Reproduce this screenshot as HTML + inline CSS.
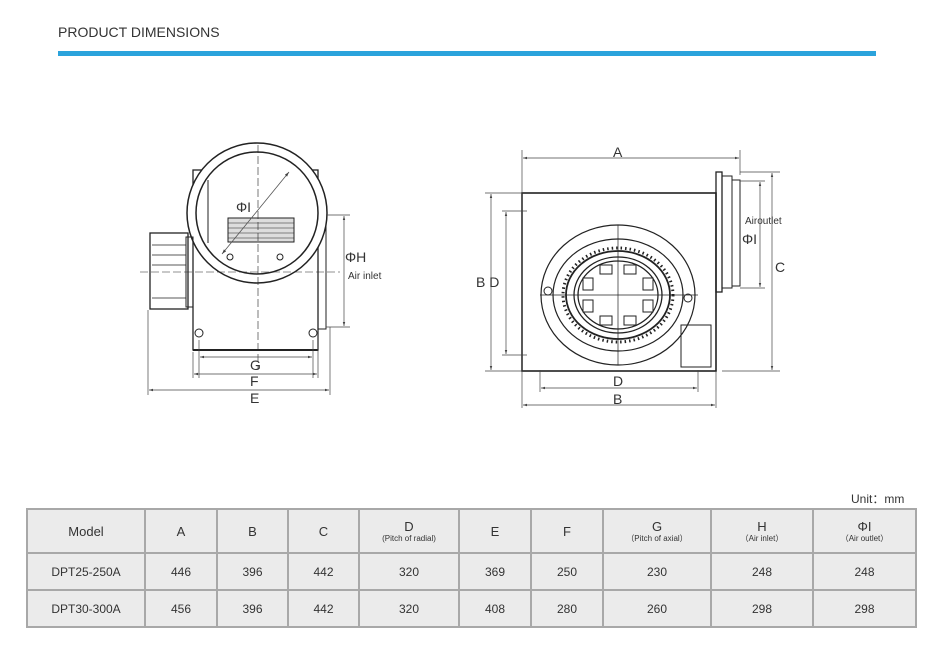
<!DOCTYPE html>
<html><head><meta charset="utf-8"><style>
body{margin:0;width:935px;height:670px;background:#fff;position:relative;font-family:"Liberation Sans",sans-serif;overflow:hidden}
.t{position:absolute;left:58px;top:24px;font-size:14px;color:#333}
.bar{position:absolute;left:58px;top:51px;width:818px;height:5px;background:#2ba3dc}
table{position:absolute;left:26px;top:508px;border-collapse:collapse;background:#ebebeb;color:#333}
td{border:2px solid #a8a8a8;text-align:center;font-size:12px;padding:0}
.h td{height:42px;font-size:13px}
.r td{height:35px}
small{display:block;font-size:8px;line-height:9px}
.unit{position:absolute;left:851px;top:490px;font-size:12px;color:#333}
</style></head><body>
<div class="t">PRODUCT DIMENSIONS</div>
<div class="bar"></div>
<svg width="935" height="470" style="position:absolute;left:0;top:0" font-family="Liberation Sans" fill="none" stroke="#222">
<defs><marker id="a" viewBox="0 0 10 10" refX="10" refY="5" markerWidth="6" markerHeight="6" orient="auto-start-reverse"><path d="M0,2L10,5L0,8z" fill="#444" stroke="none"/></marker></defs>
<!-- left view -->
<rect x="193" y="170" width="125" height="180" stroke-width="1.3"/>
<line x1="193" y1="350" x2="318" y2="350" stroke-width="2"/>
<rect x="318" y="215" width="8" height="114" stroke-width="1"/>
<circle cx="257" cy="213" r="70" fill="#fff" stroke-width="1.5"/>
<circle cx="257" cy="213" r="61" stroke-width="1.5"/>
<rect x="228" y="218" width="66" height="24" fill="#ddd" stroke-width="1"/>
<g stroke-width="0.6"><line x1="228" y1="223" x2="294" y2="223"/><line x1="228" y1="228" x2="294" y2="228"/><line x1="228" y1="233" x2="294" y2="233"/><line x1="228" y1="238" x2="294" y2="238"/></g>
<line x1="208" y1="180" x2="208" y2="243" stroke-width="1"/>
<rect x="150" y="233" width="38" height="76" stroke-width="1.3"/>
<g stroke-width="0.8"><line x1="152" y1="245" x2="186" y2="245"/><line x1="152" y1="255" x2="186" y2="255"/><line x1="152" y1="265" x2="186" y2="265"/><line x1="152" y1="298" x2="186" y2="298"/></g>
<rect x="186" y="237" width="7" height="70" stroke-width="1"/>
<circle cx="230" cy="257" r="3"/><circle cx="280" cy="257" r="3"/>
<circle cx="199" cy="333" r="4"/><circle cx="313" cy="333" r="4"/>
<line x1="258" y1="145" x2="258" y2="370" stroke-width="0.6" stroke-dasharray="8 3"/>
<line x1="140" y1="272" x2="340" y2="272" stroke-width="0.6" stroke-dasharray="8 3"/>
<line x1="222" y1="254" x2="289" y2="172" stroke="#555" stroke-width="0.8" marker-start="url(#a)" marker-end="url(#a)"/>
<g stroke-width="0.7" stroke="#444">
<line x1="326" y1="215" x2="350" y2="215"/><line x1="326" y1="327" x2="350" y2="327"/>
<line x1="344" y1="216" x2="344" y2="326" marker-start="url(#a)" marker-end="url(#a)"/>
<line x1="199" y1="340" x2="199" y2="378"/><line x1="313" y1="340" x2="313" y2="378"/>
<line x1="200" y1="357" x2="312" y2="357" marker-start="url(#a)" marker-end="url(#a)"/>
<line x1="193" y1="352" x2="193" y2="378"/><line x1="318" y1="330" x2="318" y2="378"/>
<line x1="194" y1="374" x2="317" y2="374" marker-start="url(#a)" marker-end="url(#a)"/>
<line x1="148" y1="310" x2="148" y2="395"/><line x1="330" y1="327" x2="330" y2="395"/>
<line x1="149" y1="390" x2="329" y2="390" marker-start="url(#a)" marker-end="url(#a)"/>
</g>
<g fill="#333" stroke="none" font-size="14"><text x="236" y="212">ΦI</text><text x="345" y="262">ΦH</text><text x="250" y="370">G</text><text x="250" y="386">F</text><text x="250" y="403">E</text></g>
<text x="348" y="279" font-size="10" fill="#333" stroke="none">Air inlet</text>
<!-- right view -->
<rect x="522" y="193" width="194" height="178" stroke-width="1.6"/>
<rect x="716" y="172" width="6" height="120" stroke-width="1.3"/>
<rect x="722" y="176" width="10" height="112" stroke-width="1"/>
<rect x="732" y="180" width="8" height="106" stroke-width="1"/>
<ellipse cx="618" cy="295" rx="77" ry="70" stroke-width="1.2"/>
<ellipse cx="618" cy="295" rx="65" ry="56" stroke-width="1.2"/>
<ellipse cx="618" cy="295" rx="52" ry="44" stroke-width="1.8"/>
<ellipse cx="618" cy="295" rx="55" ry="47" stroke-width="3" stroke-dasharray="1.5 3"/>
<ellipse cx="618" cy="295" rx="44" ry="38" stroke-width="1.3"/>
<ellipse cx="618" cy="295" rx="40" ry="34" stroke-width="1.3"/>
<g stroke-width="1"><rect x="600" y="265" width="12" height="9"/><rect x="624" y="265" width="12" height="9"/><rect x="600" y="316" width="12" height="9"/><rect x="624" y="316" width="12" height="9"/><rect x="583" y="278" width="10" height="12"/><rect x="583" y="300" width="10" height="12"/><rect x="643" y="278" width="10" height="12"/><rect x="643" y="300" width="10" height="12"/></g>
<line x1="540" y1="295" x2="698" y2="295" stroke-width="0.7"/>
<line x1="618" y1="225" x2="618" y2="365" stroke-width="0.7"/>
<circle cx="548" cy="291" r="4"/><circle cx="688" cy="298" r="4"/>
<path d="M681 325h30v42h-30z" stroke-width="1"/>
<g stroke-width="0.7" stroke="#444">
<line x1="522" y1="150" x2="522" y2="408"/><line x1="740" y1="150" x2="740" y2="175"/>
<line x1="523" y1="158" x2="739" y2="158" marker-start="url(#a)" marker-end="url(#a)"/>
<line x1="485" y1="193" x2="522" y2="193"/><line x1="485" y1="371" x2="522" y2="371"/>
<line x1="491" y1="194" x2="491" y2="370" marker-start="url(#a)" marker-end="url(#a)"/>
<line x1="502" y1="211" x2="527" y2="211"/><line x1="502" y1="355" x2="527" y2="355"/>
<line x1="506" y1="212" x2="506" y2="354" marker-start="url(#a)" marker-end="url(#a)"/>
<line x1="740" y1="172" x2="780" y2="172"/><line x1="722" y1="371" x2="780" y2="371"/>
<line x1="772" y1="173" x2="772" y2="370" marker-start="url(#a)" marker-end="url(#a)"/>
<line x1="740" y1="181" x2="765" y2="181"/><line x1="740" y1="288" x2="765" y2="288"/>
<line x1="760" y1="182" x2="760" y2="287" marker-start="url(#a)" marker-end="url(#a)"/>
<line x1="540" y1="370" x2="540" y2="392"/><line x1="698" y1="370" x2="698" y2="392"/>
<line x1="541" y1="388" x2="697" y2="388" marker-start="url(#a)" marker-end="url(#a)"/>
<line x1="716" y1="371" x2="716" y2="408"/>
<line x1="523" y1="405" x2="715" y2="405" marker-start="url(#a)" marker-end="url(#a)"/>
</g>
<g fill="#333" stroke="none" font-size="14"><text x="613" y="157">A</text><text x="476" y="287">B D</text><text x="775" y="272">C</text><text x="742" y="244">ΦI</text><text x="613" y="386">D</text><text x="613" y="404">B</text></g>
<text x="745" y="224" font-size="10" fill="#333" stroke="none">Airoutlet</text>
</svg>
<div class="unit">Unit：mm</div>
<table>
<tr class="h"><td style="width:116px">Model</td><td style="width:70px">A</td><td style="width:69px">B</td><td style="width:69px">C</td><td style="width:98px">D<small>(Pitch of radial)</small></td><td style="width:70px">E</td><td style="width:70px">F</td><td style="width:106px">G<small>（Pitch of axial）</small></td><td style="width:100px">H<small>（Air inlet）</small></td><td style="width:101px">ΦI<small>（Air outlet）</small></td></tr>
<tr class="r"><td>DPT25-250A</td><td>446</td><td>396</td><td>442</td><td>320</td><td>369</td><td>250</td><td>230</td><td>248</td><td>248</td></tr>
<tr class="r"><td>DPT30-300A</td><td>456</td><td>396</td><td>442</td><td>320</td><td>408</td><td>280</td><td>260</td><td>298</td><td>298</td></tr>
</table>
</body></html>
